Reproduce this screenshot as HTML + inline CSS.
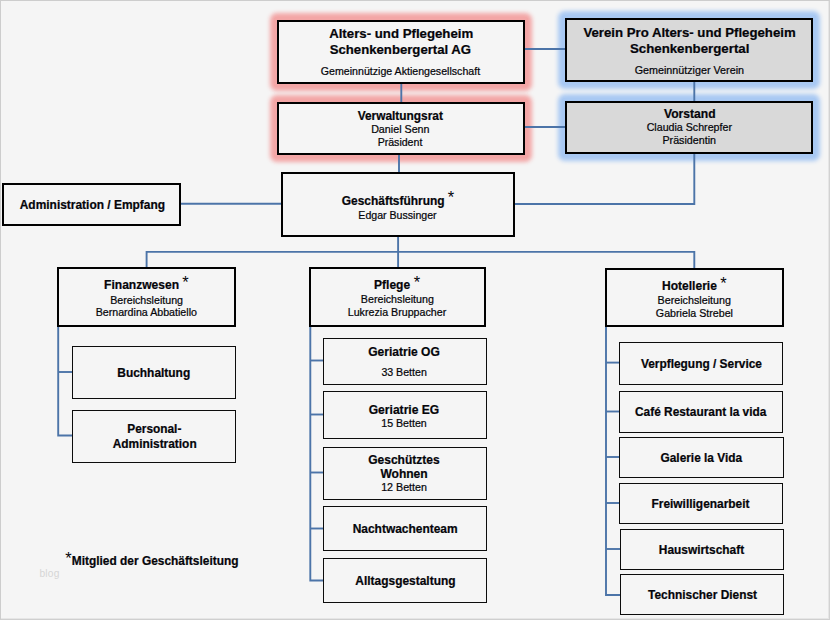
<!DOCTYPE html>
<html><head><meta charset="utf-8"><title>Organigramm</title>
<style>
html,body{margin:0;padding:0}
body{width:830px;height:620px;overflow:hidden;background:#f5f5f5;position:relative;font-family:"Liberation Sans",sans-serif;color:#05050a}
.frame{position:absolute;left:0;top:0;width:830px;height:620px;box-sizing:border-box;border:1px solid #cdcdcd;border-right:1px solid #d2d2d2;border-bottom:1px solid #cfcfcf;box-shadow:inset -1px -1px 0 #e6e6e6}
.b{position:absolute;box-sizing:border-box;border:1px solid #0c0c0c;background:#f5f5f5}
.b.k{border-width:2px;border-color:#000}
.b.blue{background:#d9d9d9}
.g{position:absolute;border-radius:3px}
.gred{background:rgb(243,166,166);box-shadow:0 0 4.4px 3.8px rgb(243,166,166)}
.gblue{background:rgb(169,201,243);box-shadow:0 0 4.4px 3.8px rgb(169,201,243)}
.ln{position:absolute;white-space:nowrap;line-height:16px;-webkit-text-stroke:0.22px #05050a}
.st{position:absolute;font-size:16.5px;line-height:16px;white-space:nowrap}
svg{position:absolute;left:0;top:0}
svg path{fill:none;stroke:#4c74a8;stroke-width:1.9}
.wm{position:absolute;left:39.4px;top:567.4px;font-size:10.2px;line-height:14px;color:#d6d6d6;letter-spacing:.25px}
</style></head><body>
<div class="frame"></div>
<div class="g gred" style="left:274.00px;top:17.00px;width:254.00px;height:70.00px"></div>
<div class="g gblue" style="left:562.00px;top:15.00px;width:254.00px;height:70.00px"></div>
<div class="g gred" style="left:274.00px;top:99.00px;width:254.00px;height:59.00px"></div>
<div class="g gblue" style="left:562.00px;top:98.00px;width:254.00px;height:58.50px"></div>
<svg width="830" height="620" viewBox="0 0 830 620">
<path d="M525 49 L566 49"/>
<path d="M525 127 L566 127"/>
<path d="M401.3 83 L401.3 103" stroke-width="1" stroke="#5b6f95"/>
<path d="M694.3 81 L694.3 102" stroke-width="1.2"/>
<path d="M399 154 L399 173"/>
<path d="M694.3 153 L694.3 204 L514 204"/>
<path d="M180 203.8 L282 203.8"/>
<path d="M398.1 236 L398.1 268"/>
<path d="M146.6 268 L146.6 251.9 L694.3 251.9 L694.3 269"/>
<path d="M58.2 326 L58.2 435.5 L72 435.5"/>
<path d="M58 372 L72 372"/>
<path d="M310.3 326 L310.3 580.5 L323.5 580.5"/>
<path d="M310.3 360.5 L323.5 360.5"/>
<path d="M310.3 414.5 L323.5 414.5"/>
<path d="M310.3 472.5 L323.5 472.5"/>
<path d="M310.3 528.5 L323.5 528.5"/>
<path d="M606 326 L606 595 L620 595"/>
<path d="M606 362.6 L620 362.6"/>
<path d="M606 411.5 L620 411.5"/>
<path d="M606 457 L620 457"/>
<path d="M606 503 L620 503"/>
<path d="M606 549 L620 549"/>
</svg>
<div class="b k red" style="left:277px;top:20px;width:248.00px;height:64.00px"></div>
<div class="b k blue" style="left:565px;top:18px;width:248.00px;height:64.00px"></div>
<div class="b k red" style="left:277px;top:102px;width:248.00px;height:53.00px"></div>
<div class="b k blue" style="left:565px;top:101px;width:248.00px;height:52.50px"></div>
<div class="b k" style="left:281px;top:172px;width:233.50px;height:65.00px"></div>
<div class="b k" style="left:2px;top:183px;width:179.00px;height:43.00px"></div>
<div class="b k" style="left:57px;top:267px;width:179.00px;height:59.50px"></div>
<div class="b k" style="left:309px;top:267px;width:177.00px;height:60.00px"></div>
<div class="b k" style="left:605px;top:268px;width:179.00px;height:59.00px"></div>
<div class="b " style="left:72px;top:346px;width:164.00px;height:52.50px"></div>
<div class="b " style="left:72px;top:410px;width:164.00px;height:52.50px"></div>
<div class="b " style="left:323px;top:338px;width:164.00px;height:47.00px"></div>
<div class="b " style="left:323px;top:391px;width:164.00px;height:48.00px"></div>
<div class="b " style="left:323px;top:447px;width:164.00px;height:53.00px"></div>
<div class="b " style="left:323px;top:506px;width:164.00px;height:45.00px"></div>
<div class="b " style="left:323px;top:558px;width:164.00px;height:45.00px"></div>
<div class="b " style="left:619px;top:342px;width:164.30px;height:42.90px"></div>
<div class="b " style="left:619px;top:391px;width:164.30px;height:41.70px"></div>
<div class="b " style="left:619px;top:437px;width:165.00px;height:40.70px"></div>
<div class="b " style="left:619px;top:483px;width:164.30px;height:40.70px"></div>
<div class="b " style="left:620px;top:529px;width:164.00px;height:40.70px"></div>
<div class="b " style="left:620px;top:574px;width:164.00px;height:41.00px"></div>
<div class="ln" style="left:329.14px;top:26px;font-size:13.24px;font-weight:bold">Alters- und Pflegeheim</div>
<div class="ln" style="left:329.74px;top:42px;font-size:13.17px;font-weight:bold">Schenkenbergertal AG</div>
<div class="ln" style="left:320.87px;top:63px;font-size:10.61px;font-weight:normal">Gemeinnützige Aktiengesellschaft</div>
<div class="ln" style="left:583.40px;top:25px;font-size:13.21px;font-weight:bold">Verein Pro Alters- und Pflegeheim</div>
<div class="ln" style="left:629.93px;top:41px;font-size:13.27px;font-weight:bold">Schenkenbergertal</div>
<div class="ln" style="left:634.66px;top:62px;font-size:10.76px;font-weight:normal">Gemeinnütziger Verein</div>
<div class="ln" style="left:357.70px;top:108px;font-size:11.9px;font-weight:bold">Verwaltungsrat</div>
<div class="ln" style="left:371.14px;top:121px;font-size:10.73px;font-weight:normal">Daniel Senn</div>
<div class="ln" style="left:377.65px;top:134px;font-size:10.59px;font-weight:normal">Präsident</div>
<div class="ln" style="left:664.00px;top:106px;font-size:12.12px;font-weight:bold">Vorstand</div>
<div class="ln" style="left:646.67px;top:119px;font-size:10.67px;font-weight:normal">Claudia Schrepfer</div>
<div class="ln" style="left:662.44px;top:132px;font-size:10.71px;font-weight:normal">Präsidentin</div>
<div class="ln" style="left:341.72px;top:193px;font-size:11.96px;font-weight:bold">Geschäftsführung</div>
<div class="ln" style="left:358.35px;top:207px;font-size:10.58px;font-weight:normal">Edgar Bussinger</div>
<div class="ln" style="left:19.76px;top:197px;font-size:11.95px;font-weight:bold">Administration / Empfang</div>
<div class="ln" style="left:104.08px;top:277px;font-size:12.06px;font-weight:bold">Finanzwesen</div>
<div class="ln" style="left:110.15px;top:292px;font-size:10.67px;font-weight:normal">Bereichsleitung</div>
<div class="ln" style="left:95.65px;top:304px;font-size:10.66px;font-weight:normal">Bernardina Abbatiello</div>
<div class="ln" style="left:374.08px;top:277px;font-size:12.01px;font-weight:bold">Pflege</div>
<div class="ln" style="left:360.84px;top:291px;font-size:10.7px;font-weight:normal">Bereichsleitung</div>
<div class="ln" style="left:347.75px;top:304px;font-size:10.68px;font-weight:normal">Lukrezia Bruppacher</div>
<div class="ln" style="left:661.98px;top:278px;font-size:12.06px;font-weight:bold">Hotellerie</div>
<div class="ln" style="left:657.54px;top:292px;font-size:10.74px;font-weight:normal">Bereichsleitung</div>
<div class="ln" style="left:655.87px;top:305px;font-size:10.68px;font-weight:normal">Gabriela Strebel</div>
<div class="ln" style="left:117.28px;top:365px;font-size:11.94px;font-weight:bold">Buchhaltung</div>
<div class="ln" style="left:127.29px;top:421px;font-size:11.87px;font-weight:bold">Personal-</div>
<div class="ln" style="left:112.76px;top:436px;font-size:11.9px;font-weight:bold">Administration</div>
<div class="ln" style="left:368.22px;top:344px;font-size:12.05px;font-weight:bold">Geriatrie OG</div>
<div class="ln" style="left:381.38px;top:364px;font-size:10.61px;font-weight:normal">33 Betten</div>
<div class="ln" style="left:368.72px;top:402px;font-size:12.09px;font-weight:bold">Geriatrie EG</div>
<div class="ln" style="left:381.26px;top:415px;font-size:10.64px;font-weight:normal">15 Betten</div>
<div class="ln" style="left:368.22px;top:452px;font-size:12.01px;font-weight:bold">Geschütztes</div>
<div class="ln" style="left:380.40px;top:466px;font-size:12.06px;font-weight:bold">Wohnen</div>
<div class="ln" style="left:381.15px;top:479px;font-size:10.69px;font-weight:normal">12 Betten</div>
<div class="ln" style="left:352.68px;top:521px;font-size:11.96px;font-weight:bold">Nachtwachenteam</div>
<div class="ln" style="left:355.36px;top:573px;font-size:11.94px;font-weight:bold">Alltagsgestaltung</div>
<div class="ln" style="left:640.90px;top:356px;font-size:11.91px;font-weight:bold">Verpflegung / Service</div>
<div class="ln" style="left:635.02px;top:404px;font-size:11.89px;font-weight:bold">Café Restaurant la vida</div>
<div class="ln" style="left:660.53px;top:450px;font-size:11.87px;font-weight:bold">Galerie la Vida</div>
<div class="ln" style="left:651.48px;top:496px;font-size:11.93px;font-weight:bold">Freiwilligenarbeit</div>
<div class="ln" style="left:658.79px;top:542px;font-size:11.91px;font-weight:bold">Hauswirtschaft</div>
<div class="ln" style="left:648.08px;top:587px;font-size:11.91px;font-weight:bold">Technischer Dienst</div>
<div class="ln" style="left:71.78px;top:553px;font-size:11.92px;font-weight:bold">Mitglied der Geschäftsleitung</div>
<div class="st" style="left:447.83px;top:189.00px">*</div>
<div class="st" style="left:182.34px;top:274.20px">*</div>
<div class="st" style="left:413.83px;top:274.20px">*</div>
<div class="st" style="left:720.13px;top:274.70px">*</div>
<div class="st" style="left:65.33px;top:550.20px">*</div>
<div class="wm">blog</div>
</body></html>
